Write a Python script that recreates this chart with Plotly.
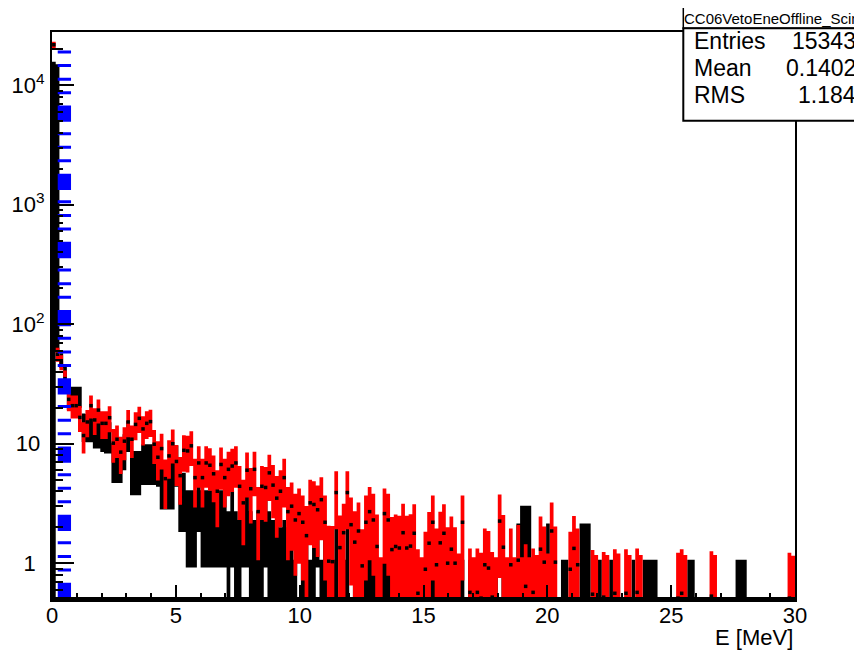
import math
import plotly.graph_objects as go

# ---------------- data ----------------
x_min, x_max = 0.0, 30.0
bin_width = 0.15            # 200 bins between 0 and 30 MeV

# red histogram (scaled simulation), one value per 0.15 MeV bin
red_val = [
    21800, 56, 48, 35, 23.5, 20.8, 20.8, 16.6, 11.7, 15.2,
    20.8, 15.8, 19.1, 14.8, 14.8, 16.5, 10.1, 10.9, 8.5, 10.5,
    15.2, 10.9, 14.5, 16.3, 13.3, 14.8, 15.3, 9.9, 7.7, 9.1,
    5.1, 7.9, 10.0, 7.1, 5.4, 8.8, 8.7, 9.6, 5.2, 6.9,
    5.2, 6.9, 6.6, 5.6, 4.0, 6.7, 5.2, 6.1, 6.5, 6.9,
    4.4, 3.2, 6.0, 4.2, 6.1, 2.7, 4.4, 4.3, 5.7, 4.5,
    3.5, 4.0, 5.2, 2.7, 3.0, 2.3, 2.6, 2.2, 1.7, 3.2,
    3.1, 2.8, 3.4, 2.2, 1.04, 1.03, 3.9, 1.35, 1.8, 3.9,
    2.1, 1.5, 1.86, 0.95, 2.2, 2.7, 2.3, 1.38, 0.45, 2.6,
    2.3, 1.3, 1.38, 1.34, 1.8, 1.34, 1.39, 1.78, 0.56, 0.45,
    0.89, 1.47, 2.2, 0.97, 1.48, 1.78, 1.0, 1.31, 1.0, 0.5,
    2.2, 0, 0.57, 0.45, 0.57, 0.51, 0.97, 0.91, 0.52, 0.45,
    2.25, 1.36, 0.45, 0.97, 0.45, 1.06, 0.45, 0.64, 0.45, 0.57,
    0.48, 1.31, 1.02, 0.5, 1.86, 1.02, 0, 0, 0, 0.89,
    1.33, 0.97, 0, 0, 0, 0.55, 0.48, 0, 0.52, 0.48,
    0, 0.56, 0.5, 0, 0.56, 0.48, 0, 0.57, 0.48, 0,
    0, 0, 0, 0, 0, 0, 0, 0, 0.51, 0.56,
    0.48, 0, 0, 0, 0, 0, 0, 0.53, 0.48, 0,
    0, 0, 0, 0, 0, 0, 0, 0, 0, 0,
    0, 0, 0, 0, 0, 0, 0, 0, 0.51, 0.47,
]
# the first red bin shows a small box at the top of the frame
red_err_first = [1300]

# black histogram (data), one value per 0.15 MeV bin
black_val = [
    7850, 7530, 50, 40, 24, 25, 25, 25, 14.1, 14,
    14, 12.7, 12.7, 12, 11.7, 11.7, 7.4, 7.4, 7.4, 9,
    12, 6.2, 6.2, 6.2, 7.2, 7.2, 7.2, 7.2, 7, 5.06,
    5.06, 5.06, 5.06, 7, 3.77, 3.77, 2.5, 2.5, 2.5, 3.77,
    2.5, 2.5, 2.5, 2.5, 2.5, 2.5, 2.5, 1.5, 2.5, 1.5,
    1.2, 2.5, 2.5, 1.5, 1.2, 1.5, 1.2, 2.5, 1.5, 1.2,
    1.5, 1.0, 1.2, 1.0, 1.0, 0.42, 0, 0.42, 1.0, 0.42,
    1.0, 2.5, 0.42, 1.0, 0.42, 0.42, 1.0, 0, 0.42, 1.0,
    0, 0.42, 0.42, 0.42, 0.42, 0.42, 0.42, 0.42, 0.42, 0.42,
    0.42, 0.42, 0, 0.42, 0.42, 0.42, 0.42, 0.42, 0.42, 0.42,
    0.42, 0.42, 0.42, 0.42, 0.42, 0.42, 0.42, 0.42, 0.42, 0.42,
    0.42, 0, 0.42, 0.42, 0.42, 0.42, 0.42, 0.42, 0.42, 0.42,
    0, 0.42, 0.42, 0.42, 0, 1.1, 1.72, 1.72, 1.72, 0,
    0, 0, 0, 1.1, 0, 0, 0, 0.42, 0.42, 0,
    0, 0, 1.1, 1.1, 1.1, 0, 0.42, 0.42, 0, 0,
    0.42, 0, 0, 0, 0, 0, 0.42, 0, 0, 0.42,
    0.42, 0.42, 0.42, 0, 0, 0, 0, 0, 0, 0,
    0, 0.42, 0.42, 0, 0, 0, 0, 0, 0, 0,
    0, 0, 0, 0, 0.42, 0.42, 0.42, 0, 0, 0,
    0, 0, 0, 0, 0, 0, 0, 0, 0, 0,
]
# the first two black bins appear as full-height columns in the reference
black_err_first = [7850, 7470]

# blue vertical marker line (threshold at 0.5 MeV)
blue_x = [0.5, 0.5]
blue_y = [0.5, 19500]

# statistics box
stat_title = "CC06VetoEneOffline_Scin"
stat_rows = [("Entries", "15343"), ("Mean", "0.1402"), ("RMS", "1.184")]

THIN = "\u2009"
y_tickvals = [1, 10, 100, 1000, 10000]
y_ticktext = ["1" + THIN * 2, "10" + THIN, "10<sup>2</sup>", "10<sup>3</sup>", "10<sup>4</sup>"]
x_title = "E [MeV]"

# ---------------- error boxes: value +- sqrt(value) (ROOT default errors) ----------------
Y_FLOOR = 0.05


def box_polygons(vals, first_err=None):
    """One closed rectangle per filled bin, separated by None."""
    px_, py_, mx, my = [], [], [], []
    for i, v in enumerate(vals):
        if v <= 0:
            continue
        err = math.sqrt(v)
        if first_err is not None and i < len(first_err):
            err = first_err[i]
        lo = max(v - err, Y_FLOOR)
        hi = v + err
        x0 = x_min + i * bin_width
        x1 = x0 + bin_width
        px_ += [x0, x1, x1, x0, x0, None]
        py_ += [lo, lo, hi, hi, lo, None]
        mx.append(x0 + bin_width / 2)
        my.append(v)
    return px_, py_, mx, my


bpx, bpy, _, _ = box_polygons(black_val, black_err_first)
rpx, rpy, rmx, rmy = box_polygons(red_val, red_err_first)

FONT = "Liberation Sans, Arial, Helvetica, sans-serif"

fig = go.Figure()
fig.add_trace(go.Scatter(x=bpx, y=bpy, mode="lines", fill="toself",
                         fillcolor="#000000", line=dict(width=0, color="#000000"),
                         hoverinfo="skip", showlegend=False))
fig.add_trace(go.Scatter(x=rpx, y=rpy, mode="lines", fill="toself",
                         fillcolor="#ff0000", line=dict(width=0, color="#ff0000"),
                         hoverinfo="skip", showlegend=False))
fig.add_trace(go.Scatter(x=rmx, y=rmy, mode="markers",
                         marker=dict(symbol="square", size=3.5, color="#000000",
                                     line=dict(width=0)),
                         hoverinfo="skip", showlegend=False))
fig.add_trace(go.Scatter(x=blue_x, y=blue_y, mode="lines",
                         line=dict(color="#0000ff", width=13.3,
                                   dash="16.3px,11.3px,3px,10.5px,3px,10.7px,3px,10.4px"),
                         hoverinfo="skip", showlegend=False))

minor_y = [m * 10 ** d for d in range(-1, 5) for m in range(2, 10)]

# the page adds an 8 px body margin, so the figure is 8 px smaller on each side
OFF = 8
W, H = 862 - OFF, 653 - OFF
# plot-area edges in page pixels
L, R, T, B = 52, 795, 32, 600


def px(xp):
    return (xp - L) / (R - L)


def py(yp):
    return (B - yp) / (B - T)


fig.update_layout(
    width=W, height=H,
    margin=dict(l=L - OFF, r=W - (R - OFF), t=T - OFF, b=H - (B - OFF), pad=0,
                autoexpand=False),
    paper_bgcolor="white", plot_bgcolor="white",
    font=dict(family=FONT, size=22, color="black"),
    xaxis=dict(range=[x_min, x_max], tickmode="linear", tick0=0, dtick=5,
               ticks="inside", ticklen=15, tickwidth=2, tickcolor="black",
               minor=dict(dtick=1, ticks="inside", ticklen=7, tickwidth=2, tickcolor="black"),
               showline=True, linecolor="black", linewidth=2, mirror=True,
               showgrid=False, zeroline=False, ticklabelstandoff=-5, automargin=False,
               tickfont=dict(family=FONT, size=22, color="black")),
    yaxis=dict(type="log", range=[-0.308, 4.445],
               tickmode="array", tickvals=y_tickvals, ticktext=y_ticktext,
               ticks="inside", ticklen=22, tickwidth=2, tickcolor="black",
               minor=dict(tickmode="array", tickvals=minor_y, ticks="inside",
                          ticklen=11, tickwidth=2, tickcolor="black"),
               showline=True, linecolor="black", linewidth=2, mirror=True,
               showgrid=False, zeroline=False, ticklabelstandoff=1, automargin=False,
               tickfont=dict(family=FONT, size=22, color="black")),
)

# thicker bottom edge of the frame, as in the reference
fig.add_shape(type="line", xref="paper", yref="paper", x0=0, x1=1,
              y0=py(598.5), y1=py(598.5), line=dict(color="black", width=3))

# statistics box
fig.add_shape(type="rect", xref="paper", yref="paper",
              x0=px(683.3), x1=px(875), y0=py(28.3), y1=py(7.3),
              fillcolor="white", line=dict(color="black", width=1.5))
fig.add_shape(type="rect", xref="paper", yref="paper",
              x0=px(683.3), x1=px(875), y0=py(120.7), y1=py(28.3),
              fillcolor="white", line=dict(color="black", width=2))
fig.add_annotation(text=stat_title, xref="paper", yref="paper",
                   x=px(682), y=py(18.3), xanchor="left", yanchor="middle",
                   showarrow=False, font=dict(family=FONT, size=15, color="black"))
row_y = [41.5, 68, 95]
for (lab, val), yy in zip(stat_rows, row_y):
    fig.add_annotation(text=lab, xref="paper", yref="paper", x=px(692), y=py(yy),
                       xanchor="left", yanchor="middle", showarrow=False,
                       font=dict(family=FONT, size=23, color="black"))
    fig.add_annotation(text=val, xref="paper", yref="paper", x=px(858), y=py(yy),
                       xanchor="right", yanchor="middle", showarrow=False,
                       font=dict(family=FONT, size=23, color="black"))

fig.add_annotation(text=x_title, xref="paper", yref="paper", x=1.0, y=py(637),
                   xanchor="right", yanchor="middle", showarrow=False,
                   font=dict(family=FONT, size=22, color="black"))

fig.write_html("out.html")
